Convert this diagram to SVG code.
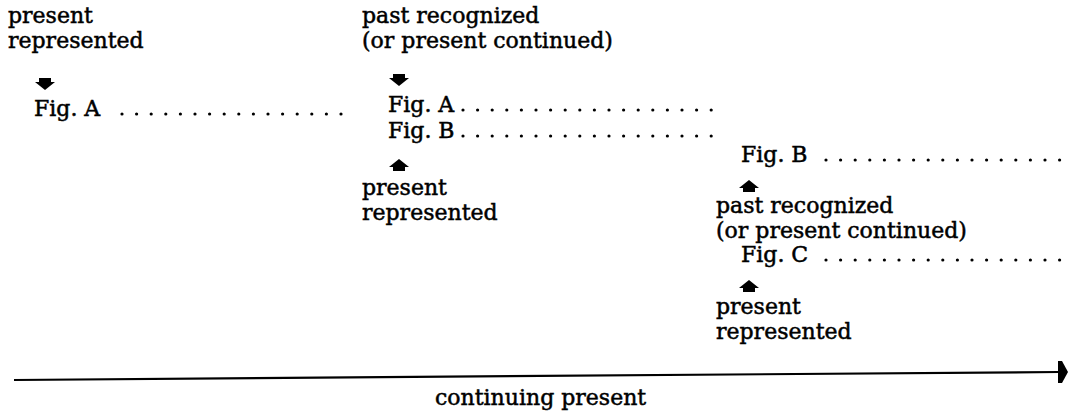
<svg xmlns="http://www.w3.org/2000/svg" width="1071" height="413" viewBox="0 0 1071 413">
<defs>
<style>
text{font-family:"DejaVu Serif","Liberation Serif",serif;font-size:22px;fill:#000;stroke:#000;stroke-width:0.5}
.dots{stroke:#000;stroke-width:3.2;stroke-linecap:round;stroke-dasharray:0 14.6;fill:none}
.axis{stroke:#000;stroke-width:2.2;fill:none}
</style>
<path id="dn" d="M-6,0 L6,0 L6,4 L10,4 L0,12 L-10,4 L-6,4 Z" fill="#000"/>
<path id="up" d="M-6,12 L6,12 L6,8 L10,8 L0,0 L-10,8 L-6,8 Z" fill="#000"/>
</defs>
<rect width="1071" height="413" fill="#fff"/>
<g id="label-present-represented-1">
<text x="8" y="23">present</text>
<text x="8" y="48">represented</text>
</g>
<g id="figA-1">
<text x="34" y="116">Fig. A</text>
<line class="dots" x1="122" y1="114" x2="343" y2="114"/>
</g>
<g id="label-past-recognized-1">
<text x="362" y="23">past recognized</text>
<text x="362" y="48">(or present continued)</text>
</g>
<g id="figA-2">
<text x="388" y="112">Fig. A</text>
<line class="dots" x1="463" y1="110" x2="712" y2="110"/>
</g>
<g id="figB-1">
<text x="388" y="138">Fig. B</text>
<line class="dots" x1="463" y1="136" x2="712" y2="136"/>
</g>
<g id="label-present-represented-2">
<text x="362" y="195">present</text>
<text x="362" y="220">represented</text>
</g>
<g id="figB-2">
<text x="741" y="162">Fig. B</text>
<line class="dots" x1="826" y1="160" x2="1063" y2="160"/>
</g>
<g id="label-past-recognized-2">
<text x="716" y="213">past recognized</text>
<text x="716" y="238">(or present continued)</text>
</g>
<g id="figC">
<text x="741" y="262">Fig. C</text>
<line class="dots" x1="826" y1="260" x2="1063" y2="260"/>
</g>
<g id="label-present-represented-3">
<text x="716" y="314">present</text>
<text x="716" y="339">represented</text>
</g>
<g id="axis-label">
<text x="435" y="405">continuing present</text>
</g>
<g id="connectors">
<use href="#dn" x="45" y="78"/>
<use href="#dn" x="399" y="74"/>
<use href="#up" x="399" y="159"/>
<use href="#up" x="749" y="180"/>
<use href="#up" x="749" y="280"/>
<line class="axis" x1="14" y1="380" x2="1059" y2="372"/>
<path d="M1058,361 L1062,361 L1068,372 L1062,383 L1058,383 Z" fill="#000"/>
</g>
</svg>
